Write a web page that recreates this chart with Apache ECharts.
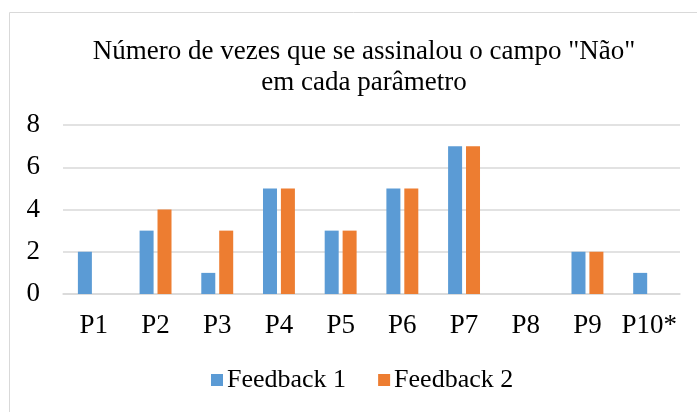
<!DOCTYPE html>
<html><head><meta charset="utf-8">
<script src="https://cdn.jsdelivr.net/npm/echarts@6/dist/echarts.min.js"></script>
<style>html,body{margin:0;padding:0;background:#fff}#c{width:697px;height:412px}</style>
</head><body><div id="c"></div>
<script>
const categories = ['P1','P2','P3','P4','P5','P6','P7','P8','P9','P10*'];
const feedback1 = [2,3,1,5,3,5,7,0,2,1];
const feedback2 = [0,4,3,5,3,5,7,0,2,0];
const yTicks = {min:0, max:8, interval:2};
const font = '"Liberation Serif","Times New Roman",serif';
const chart = echarts.init(document.getElementById('c'));
chart.setOption({
  animation:false,
  graphic:[{type:'rect',shape:{x:9.5,y:12.5,width:700,height:420},style:{fill:'none',stroke:'#d9d9d9',lineWidth:1}}],
  title:{text:'Número de vezes que se assinalou o campo "Não"\nem cada parâmetro',left:359,top:31,textAlign:'center',
    textStyle:{fontFamily:font,fontSize:27,fontWeight:'normal',color:'#000',lineHeight:31}},
  legend:{bottom:14,left:206,itemWidth:12,itemHeight:12,itemGap:32,icon:'rect',
    textStyle:{fontFamily:font,fontSize:26,color:'#000',padding:[0,0,0,-1]},data:['Feedback 1','Feedback 2']},
  grid:{left:63,right:17,top:125,bottom:118},
  xAxis:{type:'category',data:categories,axisTick:{show:false},axisLine:{lineStyle:{color:'#d9d9d9',width:1.5}},
    axisLabel:{fontFamily:font,fontSize:27,color:'#000',margin:18,interval:0}},
  yAxis:{type:'value',min:yTicks.min,max:yTicks.max,interval:yTicks.interval,axisLine:{show:false},axisTick:{show:false},
    splitLine:{lineStyle:{color:'#d9d9d9',width:1.5}},axisLabel:{fontFamily:font,fontSize:27,color:'#000',margin:23}},
  series:[
    {name:'Feedback 1',type:'bar',data:feedback1,barWidth:14,barGap:'28%',itemStyle:{color:'#5B9BD5'}},
    {name:'Feedback 2',type:'bar',data:feedback2,barWidth:14,barGap:'28%',itemStyle:{color:'#ED7D31'}}
  ]
});
</script></body></html>
